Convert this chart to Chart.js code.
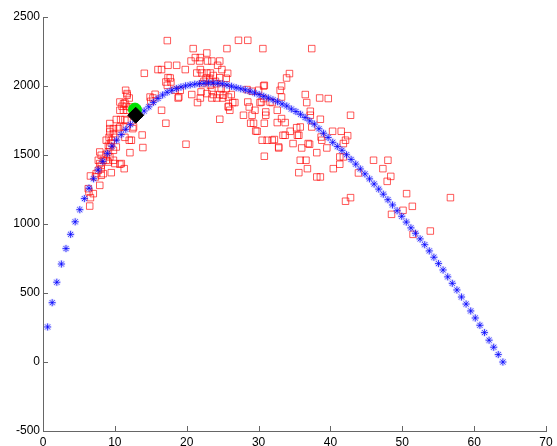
<!DOCTYPE html>
<html lang="en">
<head>
    <meta charset="UTF-8">
    <title>Trajectory scatter</title>
    <script src="https://cdn.jsdelivr.net/npm/chart.js"></script>
    <style>
        body {
            margin: 0;
            padding: 0;
            background-color: #ffffff;
        }

        .chart-container {
            position: relative;
            width: 557px;
            height: 446px;
        }
    </style>
</head>
<body>
    <div class="chart-container">
        <canvas id="trajChart"></canvas>
    </div>

    <script>
        // Axis ticks
        const xTicks = [0, 10, 20, 30, 40, 50, 60, 70];
        const yTicks = [-500, 0, 500, 1000, 1500, 2000, 2500];

        // Fitted curve (blue asterisks)
        const curveX = [
            0.64, 1.28, 1.92, 2.56, 3.2, 3.84, 4.48, 5.12, 5.76, 6.4,
            7.04, 7.68, 8.32, 8.96, 9.6, 10.24, 10.88, 11.52, 12.16, 12.8,
            13.44, 14.08, 14.72, 15.36, 16, 16.64, 17.28, 17.92, 18.56, 19.2,
            19.84, 20.48, 21.12, 21.76, 22.4, 23.04, 23.68, 24.32, 24.96, 25.6,
            26.24, 26.88, 27.52, 28.16, 28.8, 29.44, 30.08, 30.72, 31.36, 32,
            32.64, 33.28, 33.92, 34.56, 35.2, 35.84, 36.48, 37.12, 37.76, 38.4,
            39.04, 39.68, 40.32, 40.96, 41.6, 42.24, 42.88, 43.52, 44.16, 44.8,
            45.44, 46.08, 46.72, 47.36, 48, 48.64, 49.28, 49.92, 50.56, 51.2,
            51.84, 52.48, 53.12, 53.76, 54.4, 55.04, 55.68, 56.32, 56.96, 57.6,
            58.24, 58.88, 59.52, 60.16, 60.8, 61.44, 62.08, 62.72, 63.36, 64
        ];
        const curveY = [
            254, 430, 578, 710, 822, 925, 1016, 1104, 1184, 1260,
            1328, 1392, 1454, 1512, 1564, 1608, 1648, 1686, 1720, 1757,
            1789, 1819, 1849, 1881, 1910, 1935, 1955, 1969, 1982, 1992,
            2001, 2008, 2013, 2017, 2020, 2022, 2022, 2020, 2016, 2008,
            1998, 1988, 1980, 1972, 1962, 1950, 1938, 1925, 1913, 1900,
            1886, 1870, 1855, 1833, 1815, 1795, 1772, 1747, 1724, 1690,
            1658, 1627, 1592, 1562, 1534, 1502, 1468, 1434, 1399, 1363,
            1327, 1290, 1253, 1216, 1176, 1138, 1096, 1056, 1014, 972,
            933, 892, 850, 805, 759, 713, 667, 617, 570, 522,
            471, 420, 370, 319, 266, 213, 158, 107, 54, 0
        ];

        // Measurements (red squares)
        const redX = [
            17.3, 20.9, 27.2, 28.5, 25.6, 30.6, 37.4, 22.8, 21.2, 21.9,
            20.6, 21.8, 22.9, 23.5, 24.6, 17.4, 18.6, 24.3, 14.1, 16.0,
            16.5, 19.8, 21.9, 24.9, 21.4, 22.1, 22.8, 23.3, 25.7, 17.4,
            17.8, 17.1, 17.3, 22.7, 23.2, 23.7, 24.6, 25.5, 22.4, 23.2,
            24.0, 28.4, 30.8, 18.4, 19.1, 20.7, 22.0, 22.8, 23.7, 24.6,
            26.2, 21.9, 23.5, 24.2, 25.0, 18.8, 28.5, 30.4, 31.6, 21.5,
            16.5, 25.8, 26.0, 28.7, 26.4, 27.9, 31.0, 31.0, 24.6, 17.1,
            28.9, 29.3, 30.8, 29.6, 13.8, 13.9, 19.9, 12.1, 30.5, 31.2,
            31.9, 30.8, 32.8, 12.3, 22.2, 23.3, 24.2, 24.8, 25.5, 25.1,
            25.8, 23.5, 17.7, 18.9, 15.6, 15.3, 15.0, 11.5, 11.7, 12.0,
            12.6, 11.2, 10.9, 11.3, 34.3, 33.9, 33.2, 33.0, 33.2, 30.7,
            30.0, 29.1, 26.7, 25.8, 29.1, 29.5, 30.2, 30.7, 32.6, 31.9,
            33.2, 32.6, 33.7, 34.4, 35.8, 35.6, 33.7, 36.5, 36.7, 37.2,
            38.5, 39.7, 38.6, 29.8, 32.8, 34.8, 36.0, 36.9, 35.8, 36.6,
            36.8, 35.6, 38.1, 38.1, 42.8, 40.3, 41.5, 42.4, 38.7, 39.5,
            38.8, 42.1, 41.8, 41.3, 41.8, 41.3, 40.4, 38.6, 46.0, 48.0,
            47.3, 48.4, 47.9, 43.9, 50.6, 51.4, 50.1, 48.5, 42.8, 42.1,
            53.9, 51.5, 56.7, 37.4, 32.2, 37.1, 35.4, 35.3, 37.2, 33.4,
            11.7, 10.7, 11.2, 12.1, 11.2, 11.7, 14.9, 9.3, 10.2, 10.8,
            11.4, 9.3, 9.8, 10.5, 12.5, 9.3, 9.8, 9.2, 10.0, 11.4,
            12.0, 8.8, 9.5, 9.3, 9.8, 9.1, 7.9, 8.1, 8.4, 8.8,
            9.8, 7.7, 7.9, 10.0, 10.7, 9.5, 6.6, 7.3, 8.1, 8.4,
            6.5, 6.6, 6.4, 7.0, 6.3, 7.9, 7.4, 7.7, 8.1, 8.1,
            9.1, 9.3, 8.8, 9.1, 9.5, 10.2, 10.7, 11.7, 11.4, 10.7,
            11.6, 11.0
        ];
        const redY = [
            2329, 2271, 2331, 2331, 2271, 2271, 2271, 2239, 2206, 2206,
            2181, 2181, 2181, 2181, 2181, 2150, 2150, 2150, 2092, 2119,
            2119, 2119, 2119, 2119, 2094, 2094, 2094, 2094, 2092, 2061,
            2029, 2029, 2005, 2058, 2056, 2076, 2060, 2056, 2034, 2034,
            2034, 1974, 2005, 1969, 1969, 1938, 1957, 1945, 1938, 1938,
            1938, 1913, 1913, 1913, 1913, 1913, 1884, 1884, 1884, 1880,
            1824, 1848, 1824, 1848, 1880, 1788, 1812, 1788, 1759, 1730,
            1730, 1730, 1730, 1674, 1645, 1554, 1578, 1517, 1607, 1607,
            1607, 1491, 1558, 1607, 2017, 2005, 2017, 1981, 1981, 1933,
            1920, 1969, 2058, 1920, 1940, 1913, 1889, 1969, 1933, 1913,
            1703, 1703, 1438, 1401, 2090, 2058, 2000, 1969, 1920, 2000,
            1969, 1962, 1880, 1853, 1788, 1824, 1880, 1909, 1824, 1880,
            1764, 1735, 1735, 1672, 1703, 1643, 1643, 1938, 1880, 1817,
            1913, 1909, 1759, 1672, 1551, 1583, 1551, 1583, 1462, 1462,
            1401, 1372, 1517, 1341, 1788, 1672, 1672, 1640, 1630, 1551,
            1607, 1607, 1583, 1486, 1486, 1433, 1401, 1341, 1462, 1462,
            1401, 1345, 1309, 1370, 1220, 1128, 1099, 1070, 1191, 1165,
            949, 925, 1191, 1703, 1612, 1578, 1643, 1698, 1788, 1643,
            1945, 1884, 1872, 1848, 1824, 1824, 1920, 1728, 1757, 1757,
            1757, 1691, 1691, 1691, 1691, 1667, 1655, 1628, 1628, 1628,
            1607, 1607, 1607, 1558, 1534, 1522, 1522, 1498, 1462, 1462,
            1462, 1462, 1438, 1438, 1433, 1372, 1348, 1341, 1401, 1365,
            1130, 1191, 1232, 1220, 1256, 1280, 1365, 1389, 1353, 1425,
            1449, 1486, 1505, 1570, 1587, 1558, 1703, 1751, 1877, 1824,
            1853, 1853
        ];

        // Highlighted points
        const circleX = [12.8];
        const circleY = [1829];
        const diamondX = [12.9];
        const diamondY = [1788];

        const axisColor = '#666666';
        const toPoints = (xs, ys) => xs.map((x, i) => ({ x: x, y: ys[i] }));

        // MATLAB style tick marks pointing into the plot
        const innerTicks = {
            id: 'innerTicks',
            beforeDatasetsDraw(chart) {
                const { ctx, chartArea, scales } = chart;
                ctx.save();
                ctx.strokeStyle = axisColor;
                ctx.lineWidth = 1;
                ctx.beginPath();
                xTicks.forEach(v => {
                    const px = Math.round(scales.x.getPixelForValue(v)) + 0.5;
                    ctx.moveTo(px, chartArea.bottom);
                    ctx.lineTo(px, chartArea.bottom - 5);
                });
                yTicks.forEach(v => {
                    const py = Math.round(scales.y.getPixelForValue(v)) + 0.5;
                    ctx.moveTo(chartArea.left, py);
                    ctx.lineTo(chartArea.left + 5, py);
                });
                ctx.stroke();
                ctx.restore();
            }
        };

        const tickFont = { family: 'Liberation Sans, Arial, sans-serif', size: 12 };
        const plainLabel = v => String(v);

        const ctx = document.getElementById('trajChart').getContext('2d');
        const chart = new Chart(ctx, {
            type: 'scatter',
            data: {
                datasets: [
                    {
                        data: toPoints(diamondX, diamondY),
                        pointStyle: 'rectRot',
                        pointRadius: 8,
                        backgroundColor: '#000000',
                        borderColor: '#000000',
                        borderWidth: 1
                    },
                    {
                        data: toPoints(circleX, circleY),
                        pointStyle: 'circle',
                        pointRadius: 6.5,
                        backgroundColor: '#00e000',
                        borderColor: '#00e000',
                        borderWidth: 1
                    },
                    {
                        data: toPoints(curveX, curveY),
                        pointStyle: 'star',
                        pointRadius: 3.5,
                        backgroundColor: 'transparent',
                        borderColor: 'rgba(0, 0, 255, 0.75)',
                        borderWidth: 1
                    },
                    {
                        data: toPoints(curveX, curveY),
                        pointStyle: 'star',
                        pointRadius: 4,
                        backgroundColor: 'transparent',
                        borderColor: 'rgba(120, 120, 255, 0.22)',
                        borderWidth: 2.5
                    },
                    {
                        data: toPoints(redX, redY),
                        pointStyle: 'rect',
                        pointRadius: 4.6,
                        backgroundColor: 'transparent',
                        borderColor: 'rgba(255, 0, 0, 0.65)',
                        borderWidth: 1
                    }
                ]
            },
            options: {
                responsive: true,
                maintainAspectRatio: false,
                animation: false,
                layout: {
                    padding: { top: 17, right: 11, left: 0, bottom: 0 }
                },
                scales: {
                    x: {
                        type: 'linear',
                        min: 0,
                        max: 70,
                        afterBuildTicks: s => { s.ticks = xTicks.map(v => ({ value: v })); },
                        afterFit: s => { s.height = 15; },
                        grid: { display: true, drawOnChartArea: false, drawTicks: false },
                        border: { color: axisColor, width: 1 },
                        ticks: { color: '#000000', font: tickFont, padding: 4, maxRotation: 0, callback: plainLabel }
                    },
                    y: {
                        type: 'linear',
                        min: -500,
                        max: 2500,
                        afterBuildTicks: s => { s.ticks = yTicks.map(v => ({ value: v })); },
                        afterFit: s => { s.width = 43; },
                        grid: { display: true, drawOnChartArea: false, drawTicks: false },
                        border: { color: axisColor, width: 1 },
                        ticks: { color: '#000000', font: tickFont, padding: 3, callback: plainLabel }
                    }
                },
                plugins: {
                    legend: { display: false },
                    tooltip: { enabled: false }
                }
            },
            plugins: [innerTicks]
        });
    </script>
</body>
</html>
